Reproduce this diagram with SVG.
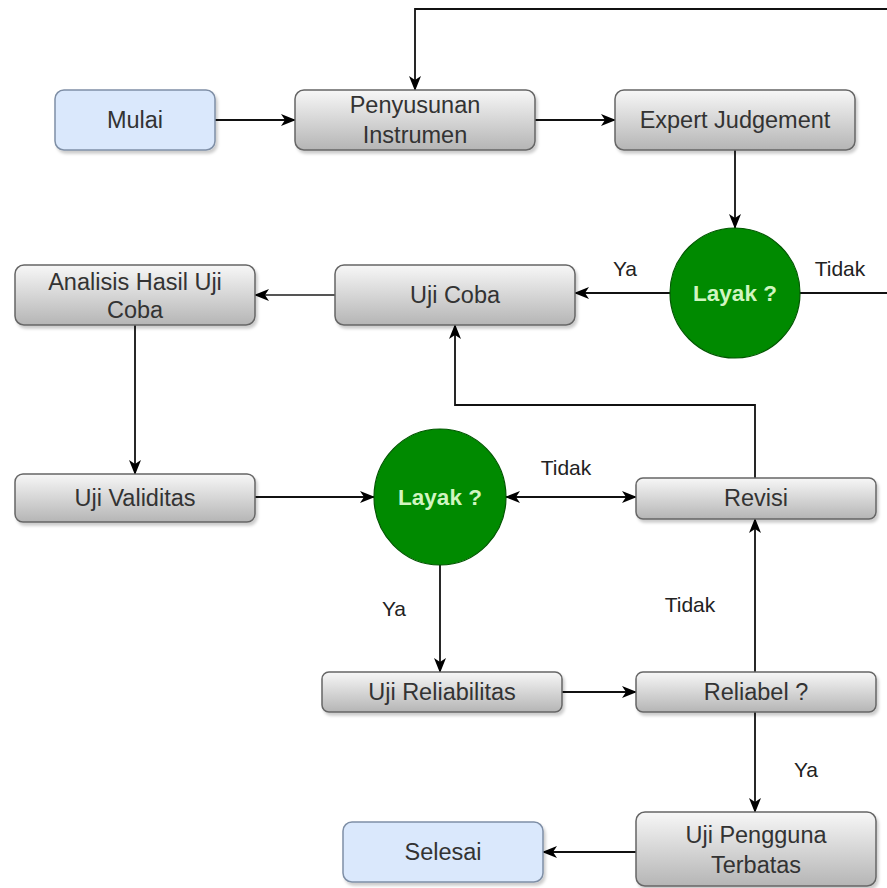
<svg xmlns="http://www.w3.org/2000/svg" width="887" height="888" viewBox="0 0 887 888">
<defs>
<linearGradient id="gray" x1="0" y1="0" x2="0" y2="1">
<stop offset="0" stop-color="#f7f7f7"/>
<stop offset="1" stop-color="#b5b5b5"/>
</linearGradient>
<filter id="sh" x="-10%" y="-10%" width="130%" height="140%">
<feDropShadow dx="2" dy="3" stdDeviation="1.5" flood-color="#000" flood-opacity="0.2"/>
</filter>
<marker id="arr" viewBox="0 0 15 12" refX="14" refY="6" markerWidth="15" markerHeight="12" markerUnits="userSpaceOnUse" orient="auto-start-reverse">
<path d="M0,0 L15,6 L0,12 L4,6 z" fill="#000"/>
</marker>
</defs>
<style>
.box{fill:url(#gray);stroke:#666;stroke-width:1.5;filter:url(#sh)}
.term{fill:#dae8fc;stroke:#7f8fa6;stroke-width:1.5;filter:url(#sh)}
.dec{fill:#008a00;stroke:#005700;stroke-width:1.2}
.t{font-family:"Liberation Sans",Arial,sans-serif;font-size:23.5px;fill:#333;text-anchor:middle;dominant-baseline:central}
.dt{font-family:"Liberation Sans",Arial,sans-serif;font-size:22.5px;font-weight:bold;fill:#d0f5c0;text-anchor:middle;dominant-baseline:central}
.lbl{font-family:"Liberation Sans",Arial,sans-serif;font-size:21px;fill:#222;text-anchor:middle;dominant-baseline:central}
.c{fill:none;stroke:#111;stroke-width:1.8}
</style>
<rect width="887" height="888" fill="#fff"/>
<g id="connectors">
<path class="c" d="M215,120 H295" marker-end="url(#arr)"/>
<path class="c" d="M535,120 H615" marker-end="url(#arr)"/>
<path class="c" d="M887,9 H415 V90" marker-end="url(#arr)"/>
<path class="c" d="M735,150 V228" marker-end="url(#arr)"/>
<path class="c" d="M800,293 H887"/>
<path class="c" d="M670,293 H575" marker-end="url(#arr)"/>
<path class="c" d="M335,295 H255" marker-end="url(#arr)" style="stroke:#555"/>
<path class="c" d="M135,325 V474" marker-end="url(#arr)"/>
<path class="c" d="M255,497 H374" marker-end="url(#arr)"/>
<path class="c" d="M506,497 H636" marker-start="url(#arr)" marker-end="url(#arr)"/>
<path class="c" d="M755,478 V405 H455 V325" marker-end="url(#arr)"/>
<path class="c" d="M440,565 V672" marker-end="url(#arr)"/>
<path class="c" d="M562,692 H636" marker-end="url(#arr)"/>
<path class="c" d="M755,672 V519" marker-end="url(#arr)"/>
<path class="c" d="M755,712 V812" marker-end="url(#arr)"/>
<path class="c" d="M636,852 H543" marker-end="url(#arr)"/>
<text class="lbl" x="840" y="268">Tidak</text>
<text class="lbl" x="625" y="268">Ya</text>
<text class="lbl" x="566" y="467">Tidak</text>
<text class="lbl" x="394" y="608">Ya</text>
<text class="lbl" x="690" y="604">Tidak</text>
<text class="lbl" x="806" y="769">Ya</text>
</g>
<g id="mulai"><rect class="term" x="55" y="90" width="160" height="60" rx="9"/><text class="t" x="135" y="120">Mulai</text></g>
<g id="penyusunan"><rect class="box" x="295" y="90" width="240" height="60" rx="9"/><text class="t" x="415" y="105">Penyusunan</text><text class="t" x="415" y="135">Instrumen</text></g>
<g id="expert"><rect class="box" x="615" y="90" width="240" height="60" rx="9"/><text class="t" x="735" y="120">Expert Judgement</text></g>
<g id="layak1"><circle class="dec" cx="735" cy="293" r="65"/><text class="dt" x="735" y="293">Layak ?</text></g>
<g id="ujicoba"><rect class="box" x="335" y="265" width="240" height="60" rx="9"/><text class="t" x="455" y="295">Uji Coba</text></g>
<g id="analisis"><rect class="box" x="15" y="265" width="240" height="60" rx="9"/><text class="t" x="135" y="282">Analisis Hasil Uji</text><text class="t" x="135" y="310">Coba</text></g>
<g id="validitas"><rect class="box" x="15" y="474" width="240" height="48" rx="8"/><text class="t" x="135" y="498">Uji Validitas</text></g>
<g id="layak2"><ellipse class="dec" cx="440" cy="497" rx="66" ry="68"/><text class="dt" x="440" y="497">Layak ?</text></g>
<g id="revisi"><rect class="box" x="636" y="478" width="240" height="41" rx="7"/><text class="t" x="756" y="498">Revisi</text></g>
<g id="reliabilitas"><rect class="box" x="322" y="672" width="240" height="40" rx="7"/><text class="t" x="442" y="692">Uji Reliabilitas</text></g>
<g id="reliabel"><rect class="box" x="636" y="672" width="240" height="40" rx="7"/><text class="t" x="756" y="692">Reliabel ?</text></g>
<g id="pengguna"><rect class="box" x="636" y="812" width="240" height="74" rx="9"/><text class="t" x="756" y="835">Uji Pengguna</text><text class="t" x="756" y="865">Terbatas</text></g>
<g id="selesai"><rect class="term" x="343" y="822" width="200" height="60" rx="9"/><text class="t" x="443" y="852">Selesai</text></g>
</svg>
